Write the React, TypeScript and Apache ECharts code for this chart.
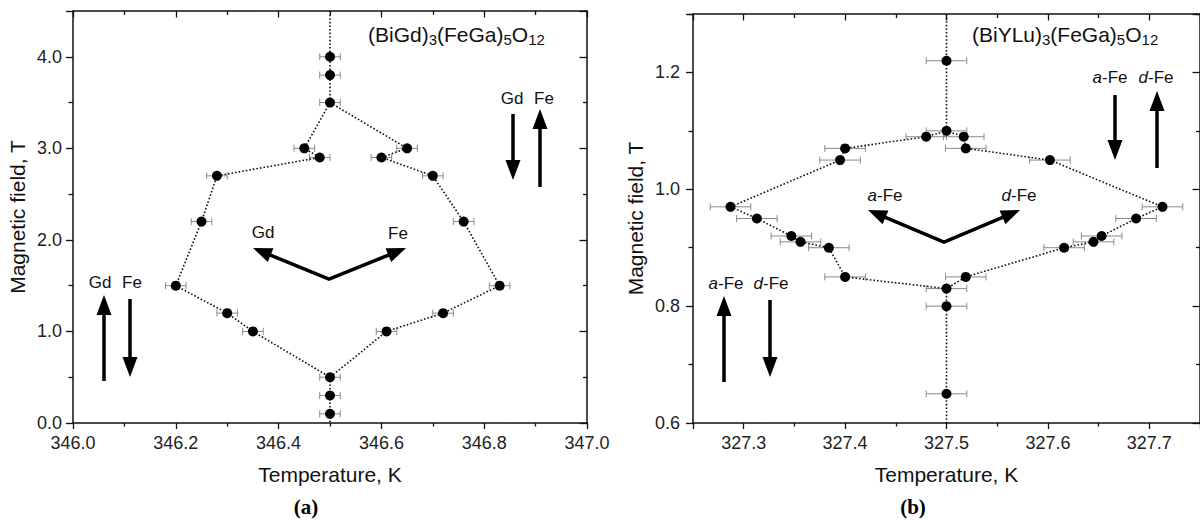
import React, { useEffect, useRef } from "react";
import * as echarts from "echarts";

// ---------- Panel (a): (BiGd)3(FeGa)5O12 ----------
const tempA = [346.5, 346.5, 346.5, 346.45, 346.48, 346.28, 346.25, 346.2, 346.3, 346.35, 346.5, 346.5, 346.5, 346.65, 346.6, 346.7, 346.76, 346.83, 346.72, 346.61];
const fieldA = [4.0, 3.8, 3.5, 3.0, 2.9, 2.7, 2.2, 1.5, 1.2, 1.0, 0.5, 0.3, 0.1, 3.0, 2.9, 2.7, 2.2, 1.5, 1.2, 1.0];
const tempErrA = 0.02;
const upperStemA = [0, 1, 2];
const leftBranchA = [2, 3, 4, 5, 6, 7, 8, 9, 10];
const rightBranchA = [2, 13, 14, 15, 16, 17, 18, 19, 10];
const lowerStemA = [10, 11, 12];
const tempRangeA = [346.0, 347.0];
const fieldRangeA = [0, 4.5];

// ---------- Panel (b): (BiYLu)3(FeGa)5O12 ----------
const tempB = [327.287, 327.395, 327.4, 327.48, 327.5, 327.517, 327.519, 327.602, 327.713, 327.687, 327.653, 327.645, 327.616, 327.519, 327.5, 327.4, 327.384, 327.356, 327.347, 327.313, 327.5, 327.5, 327.5];
const fieldB = [0.97, 1.05, 1.07, 1.09, 1.1, 1.09, 1.07, 1.05, 0.97, 0.95, 0.92, 0.91, 0.9, 0.85, 0.83, 0.85, 0.9, 0.91, 0.92, 0.95, 1.22, 0.8, 0.65];
const tempErrB = 0.02;
const upperPathB = [0, 1, 2, 3, 4, 5, 6, 7, 8];
const lowerPathB = [0, 19, 18, 17, 16, 15, 14, 13, 12, 11, 10, 9, 8];
const upperStemB = [20, 4];
const lowerStemB = [14, 21, 22];
const tempRangeB = [327.25, 327.75];
const fieldRangeB = [0.6, 1.3];

const FONT = "'Liberation Sans', Arial, Helvetica, sans-serif";
const INK = "#111";

function pts(T: number[], B: number[], idx: number[]) {
  return idx.map((i) => [T[i], B[i]]);
}

function arrowHead(x1: number, y1: number, x2: number, y2: number, len: number, w: number) {
  const L = Math.hypot(x2 - x1, y2 - y1);
  const ux = (x2 - x1) / L, uy = (y2 - y1) / L;
  const bx = x2 - ux * len, by = y2 - uy * len;
  const px = -uy, py = ux;
  return {
    base: [bx + ux * 1.5, by + uy * 1.5],
    head: {
      type: "polygon",
      shape: { points: [[x2, y2], [bx + (px * w) / 2, by + (py * w) / 2], [bx - (px * w) / 2, by - (py * w) / 2]] },
      style: { fill: "#000" },
      silent: true,
    },
  };
}

function arrow(x1: number, y1: number, x2: number, y2: number) {
  const h = arrowHead(x1, y1, x2, y2, 20, 15);
  return [
    { type: "line", shape: { x1, y1, x2: h.base[0], y2: h.base[1] }, style: { stroke: "#000", lineWidth: 3.5 }, silent: true },
    h.head,
  ];
}

function vArrow(vx: number, vy: number, lx: number, ly: number, rx: number, ry: number) {
  const a = arrowHead(vx, vy, lx, ly, 19, 15);
  const b = arrowHead(vx, vy, rx, ry, 19, 15);
  return [
    { type: "polyline", shape: { points: [a.base, [vx, vy], b.base] }, style: { stroke: "#000", lineWidth: 3.5, lineJoin: "miter", fill: null }, silent: true },
    a.head,
    b.head,
  ];
}

function label(x: number, y: number, text: string, size = 17) {
  return {
    type: "text",
    x,
    y,
    silent: true,
    style: {
      text,
      fontSize: size,
      fontFamily: FONT,
      fill: INK,
      align: "center",
      verticalAlign: "middle",
      textAlign: "center",
      textVerticalAlign: "middle",
      rich: { i: { fontStyle: "italic", fontSize: size, fontFamily: FONT, fill: INK } },
    },
  };
}

function formula(x: number, y: number, text: string) {
  return {
    type: "text",
    x,
    y,
    silent: true,
    style: {
      text,
      fontSize: 21,
      fontFamily: FONT,
      fill: INK,
      lineHeight: 26,
      align: "left",
      verticalAlign: "middle",
      textAlign: "left",
      textVerticalAlign: "middle",
      rich: {
        m: { fontSize: 21, fontFamily: FONT, fill: INK, lineHeight: 26 },
        s: { fontSize: 15, fontFamily: FONT, fill: INK, lineHeight: 10, verticalAlign: "bottom" },
      },
    },
  };
}

function errorSeries(T: number[], B: number[], err: number, ax: number) {
  return {
    type: "custom",
    xAxisIndex: ax,
    yAxisIndex: ax,
    z: 1,
    silent: true,
    data: T.map((t, i) => [t, B[i], err]),
    renderItem: (_p: any, api: any) => {
      const x = api.value(0), y = api.value(1), e = api.value(2);
      const a = api.coord([x - e, y]);
      const b = api.coord([x + e, y]);
      const st = { stroke: "#8a8a8a", lineWidth: 1 };
      return {
        type: "group",
        children: [
          { type: "line", shape: { x1: a[0], y1: a[1], x2: b[0], y2: b[1] }, style: st },
          { type: "line", shape: { x1: a[0], y1: a[1] - 3.5, x2: a[0], y2: a[1] + 3.5 }, style: st },
          { type: "line", shape: { x1: b[0], y1: b[1] - 3.5, x2: b[0], y2: b[1] + 3.5 }, style: st },
        ],
      };
    },
  };
}

function lineSeries(data: number[][], ax: number) {
  return {
    type: "line",
    xAxisIndex: ax,
    yAxisIndex: ax,
    data,
    symbol: "none",
    showSymbol: false,
    z: 2,
    silent: true,
    lineStyle: { color: "#111", width: 1.6, type: [1.6, 2], opacity: 1 },
  };
}

function dotSeries(T: number[], B: number[], ax: number) {
  return {
    type: "scatter",
    xAxisIndex: ax,
    yAxisIndex: ax,
    data: T.map((t, i) => [t, B[i]]),
    symbol: "circle",
    symbolSize: 10,
    z: 3,
    silent: true,
    itemStyle: { color: "#000", opacity: 1 },
  };
}

const axisLine = { show: true, onZero: false, lineStyle: { color: INK, width: 1.5 } };
const labelStyle = { color: "#222", fontSize: 18, fontFamily: FONT };
const nameStyle = { color: INK, fontSize: 21, fontFamily: FONT };

export default function App() {
  const ref = useRef<HTMLDivElement>(null);
  useEffect(() => {
    if (!ref.current) return;
    const chart = echarts.init(ref.current, undefined, { renderer: "svg" });
    const fmt = (v: number) => v.toFixed(1);

    const bottomX = (gridIndex: number, range: number[], extra: any, name: string) => ({
      type: "value",
      gridIndex,
      position: "bottom",
      min: range[0],
      max: range[1],
      ...extra,
      axisLine,
      axisTick: { show: true, inside: false, length: 6, lineStyle: { color: INK, width: 1.3 } },
      minorTick: { show: true, splitNumber: 2, length: 3.5, lineStyle: { color: INK, width: 1.3 } },
      axisLabel: { ...labelStyle, margin: 11, formatter: fmt, showMinLabel: extra.hideEnds ? false : true, showMaxLabel: extra.hideEnds ? false : true },
      splitLine: { show: false },
      name,
      nameLocation: "middle",
      nameGap: 41,
      nameTextStyle: nameStyle,
    });
    const topX = (gridIndex: number, range: number[], extra: any) => ({
      type: "value",
      gridIndex,
      position: "top",
      min: range[0],
      max: range[1],
      ...extra,
      axisLine,
      axisTick: { show: true, inside: true, length: 6.5, lineStyle: { color: INK, width: 1.3 } },
      minorTick: { show: true, splitNumber: 2, length: 4, lineStyle: { color: INK, width: 1.3 } },
      axisLabel: { show: false },
      splitLine: { show: false },
    });
    const leftY = (gridIndex: number, range: number[], interval: number, margin: number, gap: number) => ({
      type: "value",
      gridIndex,
      position: "left",
      min: range[0],
      max: range[1],
      interval,
      axisLine,
      axisTick: { show: true, inside: false, length: 7, lineStyle: { color: INK, width: 1.3 } },
      minorTick: { show: true, splitNumber: 2, length: 4.5, lineStyle: { color: INK, width: 1.3 } },
      axisLabel: { ...labelStyle, margin, formatter: fmt, showMaxLabel: false },
      splitLine: { show: false },
      name: "Magnetic field, T",
      nameLocation: "middle",
      nameRotate: 90,
      nameGap: gap,
      nameTextStyle: nameStyle,
    });
    const rightY = (gridIndex: number, range: number[], interval: number) => ({
      type: "value",
      gridIndex,
      position: "right",
      min: range[0],
      max: range[1],
      interval,
      axisLine,
      axisTick: { show: true, inside: true, length: 7.5, lineStyle: { color: INK, width: 1.3 } },
      minorTick: { show: true, splitNumber: 2, length: 4, lineStyle: { color: INK, width: 1.3 } },
      axisLabel: { show: false },
      splitLine: { show: false },
    });

    const option: any = {
      animation: false,
      backgroundColor: "#fff",
      textStyle: { fontFamily: FONT },
      grid: [
        { left: 73, top: 11, width: 514, height: 412, containLabel: false },
        { left: 693, top: 14, width: 508, height: 409, containLabel: false },
      ],
      xAxis: [
        bottomX(0, tempRangeA, { interval: 0.2 }, "Temperature, K"),
        topX(0, tempRangeA, { interval: 0.2 }),
        bottomX(1, tempRangeB, { splitNumber: 5, hideEnds: true }, "Temperature, K"),
        topX(1, tempRangeB, { splitNumber: 5 }),
      ],
      yAxis: [
        leftY(0, fieldRangeA, 1.0, 11, 45),
        rightY(0, fieldRangeA, 1.0),
        leftY(1, fieldRangeB, 0.2, 13, 47),
        rightY(1, fieldRangeB, 0.2),
      ],
      series: [
        errorSeries(tempA, fieldA, tempErrA, 0),
        lineSeries([[tempA[0], fieldRangeA[1]], ...pts(tempA, fieldA, upperStemA)], 0),
        lineSeries(pts(tempA, fieldA, leftBranchA), 0),
        lineSeries(pts(tempA, fieldA, rightBranchA), 0),
        lineSeries([...pts(tempA, fieldA, lowerStemA), [tempA[12], fieldRangeA[0]]], 0),
        dotSeries(tempA, fieldA, 0),

        errorSeries(tempB, fieldB, tempErrB, 2),
        lineSeries([[tempB[20], fieldRangeB[1]], ...pts(tempB, fieldB, upperStemB)], 2),
        lineSeries(pts(tempB, fieldB, upperPathB), 2),
        lineSeries(pts(tempB, fieldB, lowerPathB), 2),
        lineSeries([...pts(tempB, fieldB, lowerStemB), [tempB[22], fieldRangeB[0]]], 2),
        dotSeries(tempB, fieldB, 2),
      ],
      graphic: [
        formula(368, 34, "{m|(BiGd)}{s|3}{m|(FeGa)}{s|5}{m|O}{s|12}"),
        formula(972, 34, "{m|(BiYLu)}{s|3}{m|(FeGa)}{s|5}{m|O}{s|12}"),

        // panel (a) annotations
        label(263, 232, "Gd"),
        label(398, 233, "Fe"),
        ...vArrow(329, 279, 253, 248, 406, 248),
        label(512, 98, "Gd"),
        label(544, 98, "Fe"),
        ...arrow(513, 114, 513, 180),
        ...arrow(540, 187, 540, 109),
        label(100, 282, "Gd"),
        label(132, 282, "Fe"),
        ...arrow(104, 381, 104, 295),
        ...arrow(130, 299, 130, 377),

        // panel (b) annotations
        label(885, 195, "{i|a}-Fe"),
        label(1019, 195, "{i|d}-Fe"),
        ...vArrow(944, 242, 868, 210, 1020, 210),
        label(1110, 77, "{i|a}-Fe"),
        label(1156, 77, "{i|d}-Fe"),
        ...arrow(1115, 95, 1115, 160),
        ...arrow(1157, 168, 1157, 91),
        label(726, 283, "{i|a}-Fe"),
        label(771, 283, "{i|d}-Fe"),
        ...arrow(724, 382, 724, 296),
        ...arrow(770, 300, 770, 377),

        // sub-figure captions
        {
          type: "text",
          x: 306,
          y: 507,
          silent: true,
          style: { text: "(a)", fontSize: 21, fontWeight: "bold", fontFamily: "'Liberation Serif', 'Times New Roman', serif", fill: "#000", align: "center", verticalAlign: "middle", textAlign: "center", textVerticalAlign: "middle" },
        },
        {
          type: "text",
          x: 913,
          y: 507,
          silent: true,
          style: { text: "(b)", fontSize: 21, fontWeight: "bold", fontFamily: "'Liberation Serif', 'Times New Roman', serif", fill: "#000", align: "center", verticalAlign: "middle", textAlign: "center", textVerticalAlign: "middle" },
        },
      ],
    };
    chart.setOption(option);
    return () => chart.dispose();
  }, []);
  return <div ref={ref} style={{ position: "absolute", left: 0, top: 0, width: 1200, height: 524, background: "#fff" }} />;
}
